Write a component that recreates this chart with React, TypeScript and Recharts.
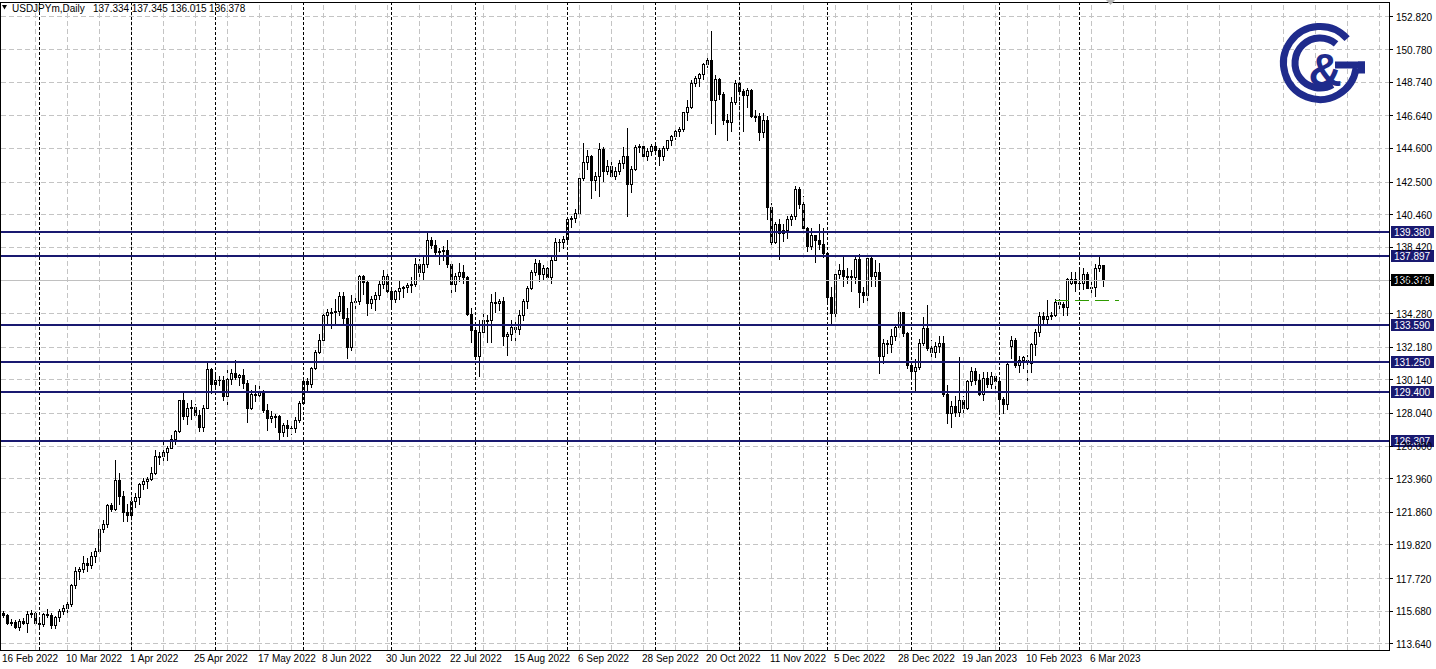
import React from "react";
import {
  ComposedChart,
  Bar,
  XAxis,
  YAxis,
  CartesianGrid,
  ReferenceLine,
} from "recharts";

const W = 1436;
const H = 669;
const FONT = "'Liberation Sans', Arial, sans-serif";
const NAVY = "#191970";
const LOGO = "#1f2b8c";

// USDJPYm daily, 16 Feb 2022 .. 9 Mar 2023 (one row per month)
const opens = [
  115.57, 115.45, 114.93, 114.98, 114.72, 115.05, 114.95, 115.5, 115.55,
  114.95, 114.88, 115.48, 115.45, 114.82, 115.3, 115.68, 115.88, 116.12, 117.3, 118.2, 118.3, 118.7, 118.55, 119.15, 119.45, 120.8, 121.15, 122.3, 122.05, 123.85, 122.85, 121.85,
  121.7, 122.55, 122.8, 123.6, 123.8, 123.95, 124.3, 125.35, 125.4, 125.6, 125.9, 126.45, 126.95, 128.85, 127.9, 128.35, 128.45, 127.95, 127.2, 128.4, 130.8,
  129.85, 130.15, 130.1, 129.1, 130.2, 130.55, 130.3, 130.45, 129.95, 128.35, 129.25, 129.2, 129.4, 128.25, 127.75, 127.85, 127.9, 126.85, 127.3, 127.15, 127.1, 127.6,
  128.7, 130.05, 129.85, 130.85, 131.85, 132.6, 134.2, 134.35, 134.4, 134.45, 135.4, 134.0, 132.2, 135.0, 135.05, 136.65, 136.25, 134.95, 135.2, 135.45, 136.1, 136.6,
  135.7, 135.2, 135.7, 135.9, 135.95, 136.05, 136.1, 137.4, 136.9, 137.4, 138.9, 138.55, 138.15, 138.2, 138.25, 137.4, 136.1, 136.65, 136.9, 136.55, 134.25,
  133.25, 131.65, 133.15, 133.85, 133.9, 135.0, 134.95, 135.05, 132.9, 133.0, 133.45, 133.3, 134.2, 135.05, 135.9, 136.9, 137.45, 136.75, 137.1, 136.55, 137.65, 138.75, 138.75,
  138.95, 140.2, 140.25, 140.55, 142.75, 143.75, 144.1, 142.6, 142.85, 144.55, 143.2, 143.5, 142.9, 143.2, 143.7, 144.1, 142.35, 143.3, 144.7, 144.75, 144.1, 144.45,
  144.75, 144.5, 144.1, 144.6, 145.1, 145.35, 145.7, 145.8, 146.85, 147.2, 148.7, 149.0, 149.25, 149.9, 150.15, 147.65, 148.95, 148.0, 146.35, 146.25, 147.5,
  148.7, 148.2, 147.95, 148.25, 146.6, 146.65, 145.65, 146.4, 140.95, 138.75, 139.9, 139.3, 139.5, 140.2, 140.35, 142.05, 141.15, 139.6, 138.5, 139.2, 138.9, 138.65,
  138.05, 135.3, 134.3, 136.75, 137.0, 136.6, 136.65, 136.55, 137.7, 135.6, 135.45, 137.75, 136.6, 136.9, 131.65, 132.45, 132.35, 132.85, 133.45, 134.4, 133.05,
  131.05, 130.7, 130.95, 132.45, 133.4, 132.1, 131.85, 132.25, 132.45, 129.25, 128.05, 128.5, 128.15, 128.9, 128.4, 130.05, 130.7, 130.15, 129.25, 130.25, 129.85, 130.4,
  130.05, 128.95, 128.6, 132.25, 132.6, 131.05, 131.4, 131.35, 131.2, 132.4, 133.1, 134.1, 133.95, 134.15, 134.2, 135.0, 134.9, 134.7, 136.2, 136.45,
  136.2, 136.2, 136.75, 135.85, 135.95, 137.15, 137.334,
];

const highs = [
  115.72, 115.5, 115.18, 115.1, 115.2, 115.25, 115.7, 115.78, 115.62,
  115.2, 115.55, 115.8, 115.55, 115.4, 115.8, 116.05, 116.3, 117.35, 118.45, 118.45, 119.1, 119.0, 119.4, 119.6, 121.0, 121.4, 122.4, 122.45, 125.1, 124.3, 123.2, 122.4,
  122.9, 123.05, 123.7, 124.0, 124.05, 124.7, 125.75, 125.65, 126.3, 126.0, 126.7, 127.0, 128.9, 129.4, 128.7, 128.85, 128.65, 128.25, 128.55, 131.25, 130.85,
  130.45, 130.4, 130.35, 130.8, 130.8, 131.35, 130.5, 130.8, 130.1, 129.5, 129.8, 129.75, 129.5, 128.6, 128.2, 128.0, 127.95, 127.45, 127.6, 127.3, 127.8, 128.8,
  130.2, 130.25, 130.95, 132.0, 133.0, 134.5, 134.55, 134.6, 135.2, 135.6, 135.6, 134.6, 135.45, 135.3, 136.7, 136.7, 136.3, 135.4, 135.6, 136.35, 137.0, 136.9,
  135.9, 135.75, 136.4, 136.0, 136.2, 136.55, 137.75, 137.7, 137.9, 139.38, 139.05, 138.85, 138.35, 138.5, 138.9, 137.5, 136.8, 137.45, 137.3, 136.6, 134.6,
  133.3, 133.9, 134.55, 134.2, 135.5, 135.6, 135.2, 135.3, 133.1, 133.9, 133.9, 134.5, 135.2, 136.0, 137.0, 137.7, 137.6, 137.3, 137.2, 137.8, 139.0, 138.95, 139.1,
  140.25, 140.4, 140.8, 143.0, 144.95, 144.5, 144.2, 143.1, 144.95, 144.7, 143.9, 143.8, 143.45, 143.85, 144.7, 145.9, 143.5, 144.8, 144.9, 144.9, 144.6, 144.9,
  145.0, 144.65, 144.75, 145.15, 145.45, 145.75, 145.95, 146.9, 147.65, 148.85, 149.1, 149.3, 149.95, 150.3, 151.95, 149.2, 149.0, 148.1, 146.75, 147.8, 148.85,
  148.85, 148.3, 148.4, 148.3, 147.0, 146.8, 146.8, 146.6, 141.2, 140.0, 140.2, 139.9, 140.4, 140.5, 142.25, 142.2, 141.6, 139.7, 139.6, 139.2, 139.9, 139.6,
  138.1, 135.95, 136.85, 137.35, 137.85, 137.1, 137.0, 137.8, 138.0, 135.95, 137.9, 137.9, 137.6, 137.45, 132.7, 132.6, 133.3, 133.6, 134.5, 134.4, 133.1,
  131.15, 131.45, 132.7, 134.05, 134.8, 132.65, 132.5, 132.85, 132.85, 129.8, 128.8, 129.1, 131.55, 129.15, 130.15, 130.95, 130.9, 130.5, 130.6, 130.6, 130.65, 130.5,
  130.25, 129.05, 131.2, 132.9, 132.75, 131.6, 131.65, 131.7, 132.45, 133.3, 134.35, 134.35, 135.1, 134.4, 135.2, 135.2, 135.0, 136.5, 136.9, 136.9,
  137.1, 137.1, 136.9, 136.4, 137.35, 137.9, 137.345,
];

const lows = [
  115.3, 114.9, 114.8, 114.66, 114.52, 114.85, 114.4, 115.3, 114.85,
  114.7, 114.75, 115.3, 114.65, 114.6, 115.05, 115.5, 115.65, 116.0, 117.15, 117.7, 118.1, 118.2, 118.4, 118.75, 119.3, 120.6, 120.95, 121.95, 122.0, 122.35, 121.3, 121.3,
  121.3, 122.2, 122.4, 123.3, 123.4, 123.9, 124.25, 124.9, 125.1, 125.1, 125.85, 126.1, 126.9, 127.7, 127.4, 127.7, 127.8, 126.95, 126.95, 128.4, 129.3,
  129.7, 129.8, 128.9, 128.6, 129.9, 130.2, 129.8, 129.6, 127.5, 128.3, 128.8, 128.9, 128.1, 127.0, 127.5, 127.2, 126.35, 126.6, 126.6, 126.75, 126.9, 127.5,
  128.6, 129.5, 129.7, 130.8, 131.8, 132.5, 133.6, 133.4, 133.6, 134.2, 133.6, 131.5, 132.0, 134.3, 134.9, 135.5, 134.2, 134.6, 134.5, 135.2, 135.9, 135.6,
  134.75, 135.0, 135.2, 135.3, 135.6, 135.6, 136.0, 136.6, 136.4, 137.2, 138.4, 137.95, 137.4, 137.6, 137.2, 135.6, 135.7, 136.3, 136.2, 134.2, 132.5,
  131.6, 130.4, 132.9, 132.5, 132.5, 134.4, 134.5, 132.3, 131.7, 132.6, 132.55, 133.0, 133.9, 134.6, 135.8, 136.7, 136.3, 136.35, 136.3, 136.2, 137.6, 138.2, 138.4,
  138.8, 139.7, 140.0, 140.35, 142.6, 143.3, 141.5, 142.0, 141.65, 142.55, 143.0, 142.8, 142.7, 143.0, 143.4, 140.35, 141.9, 143.25, 144.4, 143.9, 143.9, 144.2,
  144.4, 143.55, 143.9, 144.5, 144.8, 145.2, 145.4, 145.7, 146.4, 147.1, 148.5, 148.5, 148.95, 149.7, 146.2, 145.5, 147.7, 146.1, 145.1, 145.7, 147.4,
  146.6, 145.7, 147.2, 146.55, 146.3, 145.1, 145.3, 140.2, 138.5, 138.7, 137.7, 138.8, 139.0, 139.8, 140.2, 140.85, 139.5, 138.2, 138.3, 137.5, 138.3, 137.8,
  135.0, 133.65, 134.1, 136.5, 136.0, 136.2, 135.7, 136.2, 134.7, 135.0, 134.8, 136.0, 136.0, 130.55, 131.2, 131.8, 131.9, 132.65, 133.3, 132.9, 130.9,
  130.4, 129.5, 130.8, 132.3, 132.0, 131.55, 131.55, 131.85, 129.1, 127.45, 127.2, 127.9, 127.9, 127.8, 128.3, 129.8, 129.9, 129.2, 128.9, 129.7, 129.6, 129.55,
  128.1, 128.08, 128.3, 131.5, 130.95, 130.6, 130.9, 129.8, 130.6, 131.7, 132.9, 133.6, 133.7, 133.95, 134.1, 134.5, 134.2, 134.2, 136.1, 135.7,
  135.9, 135.8, 135.85, 135.4, 135.35, 136.95, 136.015,
];

const closes = [
  115.45, 114.93, 114.98, 114.72, 115.05, 114.95, 115.5, 115.55, 114.95,
  114.88, 115.48, 115.45, 114.82, 115.3, 115.68, 115.88, 116.12, 117.3, 118.2, 118.3, 118.7, 118.55, 119.15, 119.45, 120.8, 121.15, 122.3, 122.05, 123.85, 122.85, 121.85, 121.7,
  122.55, 122.8, 123.6, 123.8, 123.95, 124.3, 125.35, 125.4, 125.6, 125.9, 126.45, 126.95, 128.85, 127.9, 128.35, 128.45, 127.95, 127.2, 128.4, 130.8, 129.85,
  130.15, 130.1, 129.1, 130.2, 130.55, 130.3, 130.45, 129.95, 128.35, 129.25, 129.2, 129.4, 128.25, 127.75, 127.85, 127.9, 126.85, 127.3, 127.15, 127.1, 127.6, 128.7,
  130.05, 129.85, 130.85, 131.85, 132.6, 134.2, 134.35, 134.4, 134.45, 135.4, 134.0, 132.2, 135.0, 135.05, 136.65, 136.25, 134.95, 135.2, 135.45, 136.1, 136.6, 135.7,
  135.2, 135.7, 135.9, 135.95, 136.05, 136.1, 137.4, 136.9, 137.4, 138.9, 138.55, 138.15, 138.2, 138.25, 137.4, 136.1, 136.65, 136.9, 136.55, 134.25, 133.25,
  131.65, 133.15, 133.85, 133.9, 135.0, 134.95, 135.05, 132.9, 133.0, 133.45, 133.3, 134.2, 135.05, 135.9, 136.9, 137.45, 136.75, 137.1, 136.55, 137.65, 138.75, 138.75, 138.95,
  140.2, 140.25, 140.55, 142.75, 143.75, 144.1, 142.6, 142.85, 144.55, 143.2, 143.5, 142.9, 143.2, 143.7, 144.1, 142.35, 143.3, 144.7, 144.75, 144.1, 144.45, 144.75,
  144.5, 144.1, 144.6, 145.1, 145.35, 145.7, 145.8, 146.85, 147.2, 148.7, 149.0, 149.25, 149.9, 150.15, 147.65, 148.95, 148.0, 146.35, 146.25, 147.5, 148.7,
  148.2, 147.95, 148.25, 146.6, 146.65, 145.65, 146.4, 140.95, 138.75, 139.9, 139.3, 139.5, 140.2, 140.35, 142.05, 141.15, 139.6, 138.5, 139.2, 138.9, 138.65, 138.05,
  135.3, 134.3, 136.75, 137.0, 136.6, 136.65, 136.55, 137.7, 135.6, 135.45, 137.75, 136.6, 136.9, 131.65, 132.45, 132.35, 132.85, 133.45, 134.4, 133.05, 131.05,
  130.7, 130.95, 132.45, 133.4, 132.1, 131.85, 132.25, 132.45, 129.25, 128.05, 128.5, 128.15, 128.9, 128.4, 130.05, 130.7, 130.15, 129.25, 130.25, 129.85, 130.4, 130.05,
  128.95, 128.6, 131.15, 132.6, 131.05, 131.4, 131.55, 131.4, 132.4, 133.15, 134.1, 133.95, 134.15, 134.2, 135.0, 134.9, 134.7, 136.45, 136.45, 136.2,
  136.2, 136.75, 135.85, 135.95, 137.15, 137.3, 136.378,
];

const tickLabels = [
  "16 Feb 2022", "10 Mar 2022", "1 Apr 2022", "25 Apr 2022", "17 May 2022", "8 Jun 2022",
  "30 Jun 2022", "22 Jul 2022", "15 Aug 2022", "6 Sep 2022", "28 Sep 2022", "20 Oct 2022",
  "11 Nov 2022", "5 Dec 2022", "28 Dec 2022", "19 Jan 2023", "10 Feb 2023", "6 Mar 2023",
];

const priceTicks = [
  152.82, 150.78, 148.74, 146.64, 144.6, 142.5, 140.46, 138.42, 136.35, 134.28,
  132.18, 130.14, 128.04, 126.0, 123.96, 121.86, 119.82, 117.72, 115.68, 113.64,
];

const levels = [139.38, 137.897, 133.59, 131.25, 129.4, 126.307];
const lastPrice = 136.378;
const orderLevel = 135.13;
const titleQuote = ["137.334", "137.345", "136.015", "136.378"];

const firstDay = "2022-02-16";
const closedDays = ["2022-12-26"];

// bar slots incl. the empty shift area on the right
const SLOTS = 347;
const LABEL_EVERY = 16;
const GRID_EVERY = 8;

function tradingDays(n: number) {
  const out: Date[] = [];
  const d = new Date(firstDay + "T00:00:00Z");
  while (out.length < n) {
    const wd = d.getUTCDay();
    const iso = d.toISOString().slice(0, 10);
    if (wd !== 0 && wd !== 6 && !closedDays.includes(iso)) out.push(new Date(d));
    d.setUTCDate(d.getUTCDate() + 1);
  }
  return out;
}

const barDates = tradingDays(opens.length);
const monthStarts = barDates
  .map((d, i) => (i > 0 && d.getUTCMonth() !== barDates[i - 1].getUTCMonth() ? i : -1))
  .filter((i) => i > 0);

const rows = Array.from({ length: SLOTS }, (_, i) =>
  i < opens.length
    ? { i, range: [lows[i], highs[i]], o: opens[i], h: highs[i], l: lows[i], c: closes[i] }
    : { i }
);

const labelIdx = tickLabels.map((_, k) => k * LABEL_EVERY);
const gridIdx: number[] = [];
for (let i = GRID_EVERY; i < SLOTS; i += GRID_EVERY) gridIdx.push(i);

function Candle(props: any) {
  const { x, y, width, height, payload } = props;
  if (!payload || payload.h == null || !height) return null;
  const { o, h, l, c } = payload;
  const k = height / (h - l);
  const cx = Math.floor(x + width / 2);
  const top = Math.round(y);
  const bot = Math.round(y + height);
  const bt = Math.round(y + (h - Math.max(o, c)) * k);
  const bb = Math.round(y + (h - Math.min(o, c)) * k);
  const bull = c > o;
  return (
    <g>
      <line x1={cx + 0.5} x2={cx + 0.5} y1={top} y2={bot + 1} stroke="#000" />
      {bull ? (
        <rect x={cx - 0.5} y={bt + 0.5} width={2} height={Math.max(bb - bt, 1)} fill="#fff" stroke="#000" />
      ) : (
        <rect x={cx - 1} y={bt} width={3} height={bb - bt + 1} fill="#000" />
      )}
    </g>
  );
}

const tag = (text: string, bg: string) => (props: any) => {
  const vb = props.viewBox;
  const x = vb.x + vb.width + 2;
  const y = vb.y;
  return (
    <g>
      <rect x={x} y={y - 6} width={43} height={12} fill={bg} />
      <text x={x + 3} y={y + 4} fill="#fff" fontSize={10} fontFamily={FONT}>
        {text}
      </text>
    </g>
  );
};

const XTick = (p: any) => {
  const k = labelIdx.indexOf(p.payload.value);
  if (k < 0) return null;
  return (
    <text x={p.x - 1} y={662} fontSize={10} fontFamily={FONT} fill="#000">
      {tickLabels[k]}
    </text>
  );
};

const YTick = (p: any) => (
  <g>
    <line x1={1389} x2={1393} y1={p.y} y2={p.y} stroke="#000" />
    <text x={1396} y={p.y + 4} fontSize={10} fontFamily={FONT} fill="#000">
      {Number(p.payload.value).toFixed(3)}
    </text>
  </g>
);

function arc(cx: number, cy: number, r: number, a0: number, a1: number) {
  const pt = (a: number) => [cx + r * Math.cos((a * Math.PI) / 180), cy - r * Math.sin((a * Math.PI) / 180)];
  const [x0, y0] = pt(a0);
  const [x1, y1] = pt(a1);
  const large = a1 - a0 > 180 ? 1 : 0;
  return `M ${x0} ${y0} A ${r} ${r} 0 ${large} 0 ${x1} ${y1}`;
}

export default function App() {
  return (
    <div style={{ position: "absolute", left: 0, top: 0, width: W, height: H, background: "#fff", overflow: "hidden" }}>
      <style>{`.mt4 .recharts-surface line, .mt4 .recharts-surface rect, .mt4 .recharts-surface path { shape-rendering: crispEdges; }`}</style>
      <div className="mt4">
        <ComposedChart width={W} height={H} data={rows} margin={{ top: 2, right: 0, bottom: 0, left: 1 }}>
          <CartesianGrid vertical={false} stroke="#c4c4c4" strokeDasharray="5 3" />
          <XAxis
            dataKey="i"
            type="category"
            ticks={labelIdx}
            interval={0}
            tickLine={false}
            tickSize={0}
            height={19}
            axisLine={{ stroke: "#000" }}
            tick={<XTick />}
          />
          <YAxis
            orientation="right"
            type="number"
            domain={[113.255, 153.755]}
            allowDataOverflow
            ticks={priceTicks}
            interval={0}
            width={47}
            tickLine={false}
            tickSize={0}
            axisLine={{ stroke: "#000" }}
            tick={<YTick />}
          />
          {gridIdx.map((i) => (
            <ReferenceLine key={`g${i}`} x={i} stroke="#c4c4c4" strokeDasharray="5 3" />
          ))}
          {monthStarts.map((i) => (
            <ReferenceLine key={`m${i}`} x={i} stroke="#000" strokeDasharray="3 2" />
          ))}
          <ReferenceLine y={lastPrice} stroke="#c0c0c0" label={tag(lastPrice.toFixed(3), "#000")} />
          <Bar dataKey="range" barSize={3} isAnimationActive={false} shape={(p: any) => <Candle {...p} />} />
          {levels.map((v) => (
            <ReferenceLine key={`l${v}`} y={v} stroke={NAVY} strokeWidth={2} label={tag(v.toFixed(3), NAVY)} />
          ))}
          <ReferenceLine
            segment={[
              { x: 263, y: orderLevel },
              { x: 279, y: orderLevel },
            ]}
            stroke="#2f9b00"
            strokeDasharray="14 6"
          />
        </ComposedChart>
      </div>
      <svg width={W} height={H} style={{ position: "absolute", left: 0, top: 0, pointerEvents: "none" }}>
        <rect x={0.5} y={2.5} width={1389} height={648} fill="none" stroke="#000" shapeRendering="crispEdges" />
        <polygon points="2,5 7,5 4.5,9.5" fill="#000" />
        <text x={12} y={12} fontSize={10} fontFamily={FONT} fill="#000">USDJPYm,Daily</text>
        {titleQuote.map((q, k) => (
          <text key={q + k} x={93 + k * 38.7} y={12} fontSize={10} fontFamily={FONT} fill="#000">
            {q}
          </text>
        ))}
        <polygon points="1106,0 1115,0 1110.5,5" fill="#b4b4b4" />
        <g fill="none" stroke={LOGO} strokeWidth={7}>
          <path d={arc(1320, 63, 36.5, 42, 352)} />
          <path d={arc(1320, 63, 25, 50, 300)} />
        </g>
        <rect x={1335} y={61.5} width={30} height={7} fill={LOGO} />
        <rect x={1358} y={61.5} width={7} height={12} fill={LOGO} />
        <text x={1325} y={86} fontSize={46} fontWeight="bold" fontFamily={FONT} fill={LOGO} textAnchor="middle">
          &amp;
        </text>
      </svg>
    </div>
  );
}
